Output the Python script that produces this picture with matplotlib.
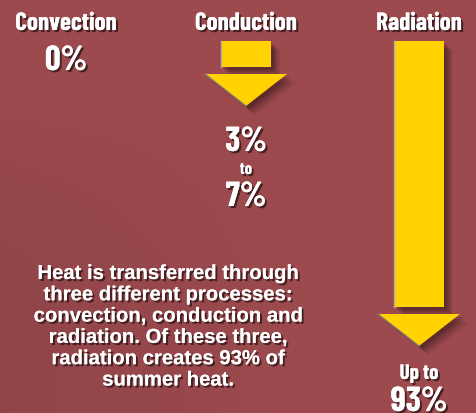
import numpy as np
import matplotlib as mpl
mpl.use("Agg")
import matplotlib.pyplot as plt
import matplotlib.patheffects as pe
from matplotlib.patches import Polygon, Rectangle

# categories and their share of summer heat
processes = ["Convection", "Conduction", "Radiation"]
share_high = [0, 7, 93]
# visual arrow length (pixels) for each process
arrow_len = [0, 65, 305]
note_lines = ["Heat is transferred through",
              "three different processes:",
              "convection, conduction and",
              "radiation. Of these three,",
              "radiation creates 93% of",
              "summer heat."]

bg = "#9c4a4e"
yellow = "#ffd200"
head_font = ["Barlow Condensed", "Roboto Condensed", "DejaVu Sans"]
body_font = ["Liberation Sans", "DejaVu Sans"]

W, H = 477, 414
fig = plt.figure(figsize=(W / 100, H / 100), dpi=100)
ax = fig.add_axes([0, 0, 1, 1])
ax.set_xlim(0, W)
ax.set_ylim(H, 0)
ax.axis("off")

# background, a bit darker toward the lower left
base = np.array(mpl.colors.to_rgb(bg))
yy, xx = np.mgrid[0:H, 0:W]
shade = 1.0 - 0.07 * np.clip((yy - 80) / 200, 0, 1) * np.clip((300 - xx) / 300, 0, 1)
bgimg = base[None, None, :] * shade[..., None]
ax.imshow(bgimg, extent=[0, W, H, 0], zorder=0)

shadow = [pe.withSimplePatchShadow(offset=(1.5, -1.5), shadow_rgbFace="black", alpha=0.55), pe.Normal()]


def label(x, y, s, size, fam=head_font):
    ax.text(x, y, s, ha="center", va="baseline", color="white", fontsize=size,
            fontweight="bold", family=fam, path_effects=shadow, zorder=5)


xc = [66, 246, 419]
top = 42
shaft_w = 50
head_w = 82
head_h = 32

for i, name in enumerate(processes):
    label(xc[i], 31, name, 18)
    L = arrow_len[i]
    if L > 0:
        shaft_bot = top + L - head_h - 7
        head_top = top + L - head_h
        tip = top + L
        # soft shadow
        for k, a in [(9, 0.07), (7, 0.1), (5, 0.13), (3, 0.16)]:
            ax.add_patch(Rectangle((xc[i] - shaft_w / 2 + k, top + k), shaft_w, shaft_bot - top,
                                   fc="black", ec="none", alpha=a, zorder=2))
            ax.add_patch(Polygon([(xc[i] - head_w / 2 + k, head_top + k), (xc[i] + head_w / 2 + k, head_top + k),
                                  (xc[i] + k, tip + k)], closed=True, fc="black", ec="none", alpha=a, zorder=2))
        ax.add_patch(Rectangle((xc[i] - shaft_w / 2, top), shaft_w, shaft_bot - top,
                               fc=yellow, ec="none", zorder=3))
        ax.plot([xc[i] - shaft_w / 2, xc[i] - shaft_w / 2], [top, shaft_bot], color="#b8b0a0", lw=1, zorder=4)
        ax.add_patch(Polygon([(xc[i] - head_w / 2, head_top), (xc[i] + head_w / 2, head_top), (xc[i], tip)],
                             closed=True, fc=yellow, ec="none", zorder=3))
        ax.plot([xc[i] - head_w / 2, xc[i]], [head_top, tip], color="#8a8070", lw=1, zorder=4)

# percentage labels
label(xc[0], 71, f"{share_high[0]}%", 25)
label(xc[1], 152, "3%", 25)
label(xc[1], 175, "to", 12)
label(xc[1], 207, f"{share_high[1]}%", 25)
label(xc[2], 380, "Up to", 15)
label(xc[2], 412, f"{share_high[2]}%", 25)

for j, line in enumerate(note_lines):
    label(168, 280 + j * 21.3, line, 14.6, fam=body_font)

fig.savefig("out.png", dpi=100)
